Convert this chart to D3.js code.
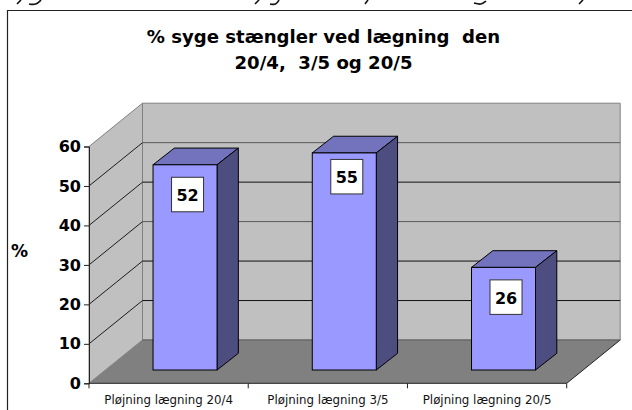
<!DOCTYPE html>
<html><head><meta charset="utf-8">
<script src="https://cdn.jsdelivr.net/npm/d3@7/dist/d3.min.js"></script>
<style>html,body{margin:0;padding:0;background:#fff;overflow:hidden}svg{display:block}</style>
</head><body>
<svg id="c" width="632" height="410"></svg>
<script>
const categories = ["Pløjning lægning 20/4", "Pløjning lægning 3/5", "Pløjning lægning 20/5"];
const values = [52, 55, 26];
const yTicks = [0, 10, 20, 30, 40, 50, 60];
const titleLines = ["% syge stængler ved lægning  den", "20/4,  3/5 og 20/5"];
const yLabel = "%";

const FONT = "'DejaVu Sans', sans-serif";
const svg = d3.select("#c");
const x = d3.scaleBand().domain(categories).range([89, 566.7]);
const y = d3.scaleLinear().domain([0, 60]).range([383.3, 146.5]);
const depthX = 53.5, depthY = 43.3;
const frontF = 0.307;
const barW = 64, barDX = 21.3, barDY = 16.7;
const baseY = y(0);
const line = d3.line();

// clipped descenders of the cut-off text line above the chart
[[[17,4],[21,0]],[[29,4],[36,5],[41,0]],[[255,4],[259,0]],[[270,4],[276,5],[279,0]],[[365,4],[368,0]],[[474,3],[481,5],[486,1]],[[579,4],[583,0]]]
  .forEach(p => svg.append("path").attr("d", d3.line().curve(d3.curveBasis)(p)).attr("fill", "none").attr("stroke", "#111").attr("stroke-width", 1.6));

// frame
svg.append("path").attr("d", "M7.5,410V10.5H632").attr("fill", "none").attr("stroke", "#222").attr("stroke-width", 1.2);

// walls
svg.append("path").attr("d", line([[x.range()[0]+depthX, y(60)-depthY],[x.range()[1]+depthX, y(60)-depthY],[x.range()[1]+depthX, baseY-depthY],[x.range()[0]+depthX, baseY-depthY]])+"Z")
  .attr("fill", "#c0c0c0").attr("stroke", "#808080").attr("stroke-width", 1);
svg.append("path").attr("d", line([[89, y(60)],[89+depthX, y(60)-depthY],[89+depthX, baseY-depthY],[89, baseY]])+"Z")
  .attr("fill", "#c0c0c0").attr("stroke", "#808080").attr("stroke-width", 1);
svg.append("path").attr("d", line([[89, baseY],[x.range()[1], baseY],[x.range()[1]+depthX, baseY-depthY],[89+depthX, baseY-depthY]])+"Z")
  .attr("fill", "#808080");
svg.append("path").attr("d", line([[x.range()[1], baseY],[x.range()[1]+depthX, baseY-depthY]])).attr("stroke", "#222").attr("fill", "none");
svg.append("path").attr("d", line([[89+depthX, baseY-depthY],[x.range()[1]+depthX, baseY-depthY]])).attr("stroke", "#5a5a5a").attr("stroke-width", 1.2).attr("fill", "none");

// gridlines
yTicks.filter(v => v > 0 && v < 60).forEach(v => {
  const backColor = (v === 50 || v === 30) ? "#5a5a5a" : "#111";
  svg.append("path").attr("d", line([[89, y(v)],[89+depthX, y(v)-depthY]]))
    .attr("fill", "none").attr("stroke", "#1c1c1c").attr("stroke-width", 1);
  svg.append("path").attr("d", line([[89+depthX, y(v)-depthY],[x.range()[1]+depthX, y(v)-depthY]]))
    .attr("fill", "none").attr("stroke", backColor).attr("stroke-width", 1);
});

// bars
const bars = svg.selectAll("g.bar").data(values).join("g").attr("class", "bar");
const fx = (d, i) => x(categories[i]) + x.bandwidth()/2 + depthX*frontF - barW/2;
const fb = baseY - depthY*frontF;
const h = v => baseY - y(v);
const drop = (d, i) => i === 1 ? 6.5 : 12.5;   // the tallest bar's label sits higher
bars.append("path").attr("d", (d,i) => { const l=fx(d,i), r=l+barW, t=fb-h(d);
  return line([[l,t],[r,t],[r+barDX,t-barDY],[l+barDX,t-barDY]])+"Z"; })
  .attr("fill", "#7373bd").attr("stroke", "#000").attr("stroke-width", 1);
bars.append("path").attr("d", (d,i) => { const r=fx(d,i)+barW, t=fb-h(d);
  return line([[r,t],[r+barDX,t-barDY],[r+barDX,fb-barDY],[r,fb]])+"Z"; })
  .attr("fill", "#4d4d80").attr("stroke", "#000").attr("stroke-width", 1);
bars.append("rect").attr("x", fx).attr("y", d => fb-h(d)).attr("width", barW).attr("height", d => h(d))
  .attr("fill", "#9999ff").attr("stroke", "#000").attr("stroke-width", 1);
bars.append("rect").attr("x", (d,i) => fx(d,i)+18.5).attr("y", (d,i) => fb-h(d)+drop(d,i)).attr("width", 32).attr("height", 34.5)
  .attr("fill", "#fff").attr("stroke", "#333").attr("stroke-width", 1);
bars.append("text").attr("x", (d,i) => fx(d,i)+34.5).attr("y", (d,i) => fb-h(d)+drop(d,i)+24)
  .attr("text-anchor", "middle").attr("font-family", FONT).attr("font-weight", 700).attr("font-size", 16).attr("fill", "#000").text(d => d);

// axes
const yAxis = d3.axisLeft(y).tickValues(yTicks).tickSize(5).tickPadding(3);
const gy = svg.append("g").attr("transform", "translate(89,0)").call(yAxis);
gy.select(".domain").attr("stroke", "#222");
gy.selectAll(".tick line").attr("stroke", "#222");
gy.selectAll("text").attr("font-family", FONT).attr("font-weight", 700).attr("font-size", 16).attr("fill", "#000");

const xAxis = d3.axisBottom(x).tickSize(0).tickPadding(12.5);
const gx = svg.append("g").attr("transform", `translate(0,${baseY})`).call(xAxis);
gx.select(".domain").remove();
gx.selectAll("text").attr("font-family", FONT).attr("font-size", 11.8).attr("fill", "#111");
svg.append("path").attr("d", line([[89, baseY],[x.range()[1], baseY]])).attr("stroke", "#222").attr("fill", "none");
[...categories.map(c => x(c)), x.range()[1]].forEach(px => {
  svg.append("path").attr("d", line([[px, baseY],[px, baseY+5]])).attr("stroke", "#222").attr("fill", "none");
});

// title and axis label
svg.append("text").attr("text-anchor", "middle").attr("font-family", FONT).attr("font-weight", 700).attr("font-size", 18.1)
  .selectAll("tspan").data(titleLines).join("tspan").style("white-space", "pre")
  .attr("x", 323.5).attr("y", (d,i) => 43 + i*26).text(d => d);
svg.append("text").attr("x", 19.5).attr("y", 257).attr("text-anchor", "middle")
  .attr("font-family", FONT).attr("font-weight", 700).attr("font-size", 17).text(yLabel);
</script>
</body></html>
